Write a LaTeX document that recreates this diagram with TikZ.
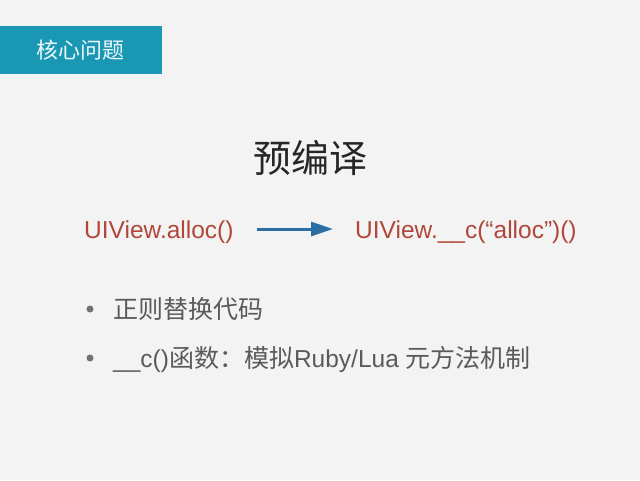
\documentclass[tikz,border=0pt]{standalone}
\usepackage{fontspec}
\setmainfont{Liberation Sans}
\newfontfamily\cjk{Noto Sans CJK SC}
\usetikzlibrary{arrows.meta}
\definecolor{bgc}{HTML}{F3F3F3}
\definecolor{teal}{HTML}{1A98B3}
\definecolor{codered}{HTML}{B0473A}
\definecolor{arrowblue}{HTML}{2A6EA3}
\definecolor{graytext}{HTML}{5A5A5A}
\tikzset{
  px/.style={x=1pt,y=-1pt},
  codetxt/.style={text=codered,font=\fontsize{24.5}{28}\selectfont,inner sep=0pt,anchor=base west},
  bullettxt/.style={text=graytext,font=\fontsize{24.5}{28}\selectfont,inner sep=0pt,anchor=base west},
  bulletdot/.style={fill=graytext!85,draw=none,circle,inner sep=0pt,minimum size=7pt},
}
\begin{document}
\begin{tikzpicture}[px]
\fill[bgc] (0,0) rectangle (640,480);
\useasboundingbox (0,0) rectangle (640,480);
% header
\fill[teal] (0,26) rectangle (162,74);
\node[text=white!92!teal,font=\cjk\fontsize{22}{26}\selectfont,inner sep=0pt] (hdr) at (80,50) {核心问题};
% title
\node[text=black!85,font=\cjk\fontsize{38}{44}\selectfont,inner sep=0pt] (title) at (310,158) {预编译};
% code line
\node[codetxt] (lft) at (84,238) {UIView.alloc()};
\node[codetxt] (rgt) at (355,238) {UIView.\_\_c(“alloc”)()};
\draw[arrowblue,line width=3pt,shorten <=23pt,shorten >=22pt,-{Triangle[length=22pt,width=14pt]}] ([yshift=9pt]lft.base east) -- ([yshift=9pt]rgt.base west);
% bullets
\node[bulletdot] (d1) at (90,309) {};
\node[bullettxt] (b1) at (113,318) {\cjk\fontsize{25}{28}\selectfont 正则替换代码};
\node[bulletdot] (d2) at (90,358) {};
\node[bullettxt] (b2) at (113,367) {\_\_c(){\cjk\fontsize{25}{28}\selectfont 函数：模拟}Ruby/Lua {\cjk\fontsize{25}{28}\selectfont 元方法机制}};
\end{tikzpicture}
\end{document}
